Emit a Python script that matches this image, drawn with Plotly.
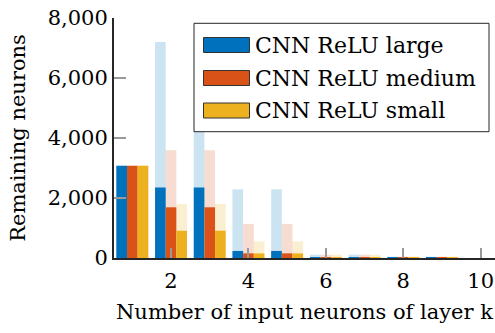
import plotly.graph_objects as go

# ---------------- data ----------------
x_vals = [1, 2, 3, 4, 5, 6, 7, 8, 9, 10]
series_names = ["CNN ReLU large", "CNN ReLU medium", "CNN ReLU small"]
# remaining neurons (solid bars)
large_remaining = [3072, 2350, 2350, 235, 235, 15, 15, 5, 5, 0]
medium_remaining = [3072, 1690, 1690, 155, 155, 12, 12, 4, 4, 0]
small_remaining = [3072, 910, 910, 152, 152, 10, 10, 3, 3, 0]
# total neurons (faint bars)
large_total = [3072, 7200, 7200, 2290, 2290, 110, 110, 45, 45, 0]
medium_total = [3072, 3590, 3590, 1137, 1137, 110, 110, 45, 45, 0]
small_total = [3072, 1800, 1800, 555, 555, 110, 110, 45, 45, 0]
y_ticks = [0, 2000, 4000, 6000, 8000]
x_ticks = [2, 4, 6, 8, 10]

# ---------------- style ----------------
colors = ["#0072BD", "#D95319", "#EDB120"]
faint = ["rgba(0,114,189,0.2)", "rgba(217,83,25,0.2)", "rgba(237,177,32,0.2)"]
FONT = "DejaVu Serif"
FS = 21
LEG_FS = 22
W, H = 495, 333
L, R, T, B = 114, 0, 18, 75
BAR_W = 0.275
offsets = [-1.5 * BAR_W, -0.5 * BAR_W, 0.5 * BAR_W]

fig = go.Figure()
totals = [large_total, medium_total, small_total]
remain = [large_remaining, medium_remaining, small_remaining]
for i in range(3):
    fig.add_trace(go.Bar(x=x_vals, y=totals[i], width=BAR_W, offset=offsets[i],
                         marker=dict(color=faint[i], line=dict(width=0)),
                         showlegend=False, hoverinfo="skip"))
for i in range(3):
    fig.add_trace(go.Bar(x=x_vals, y=remain[i], width=BAR_W, offset=offsets[i],
                         marker=dict(color=colors[i], line=dict(width=0)),
                         name=series_names[i], showlegend=False))

pw = W - L - R
ph = H - T - B


def px(xp):
    return (xp - L) / pw


def py(yp):
    return (H - B - yp) / ph


shapes = []
annotations = []
# legend box
shapes.append(dict(type="rect", xref="paper", yref="paper",
                   x0=px(194), x1=px(489), y0=py(131.7), y1=py(23.3),
                   line=dict(color="#262626", width=1), fillcolor="white", layer="above"))
centers = [45, 78, 110.5]
for i in range(3):
    shapes.append(dict(type="rect", xref="paper", yref="paper",
                       x0=px(203.5), x1=px(249.5), y0=py(centers[i] + 7.5), y1=py(centers[i] - 7.5),
                       line=dict(color="#333333", width=1), fillcolor=colors[i], layer="above"))
    annotations.append(dict(xref="paper", yref="paper", x=px(253), y=py(centers[i]),
                            xanchor="left", yanchor="middle", showarrow=False,
                            text=series_names[i], font=dict(family=FONT, size=LEG_FS, color="black")))

fig.update_layout(
    width=W, height=H,
    margin=dict(l=L, r=R, t=T, b=B, pad=0),
    paper_bgcolor="white", plot_bgcolor="white",
    barmode="overlay",
    font=dict(family=FONT, size=FS, color="black"),
    shapes=shapes, annotations=annotations,
    xaxis=dict(range=[0.527, 10.37], tickvals=x_ticks, ticks="inside", ticklen=10,
               tickcolor="#999999", tickwidth=1.5, showgrid=False, zeroline=False,
               showline=True, linecolor="#262626", linewidth=2,
               tickfont=dict(family=FONT, size=FS), ticklabelstandoff=3,
               title=dict(text="Number of input neurons of layer k", standoff=12,
                          font=dict(family=FONT, size=FS))),
    yaxis=dict(range=[0, 8000], tickvals=y_ticks, tickformat=",", ticks="inside", ticklen=12,
               tickcolor="#999999", tickwidth=1.5, showgrid=False, zeroline=False,
               showline=True, linecolor="#262626", linewidth=2,
               tickfont=dict(family=FONT, size=FS),
               title=dict(text="Remaining neurons", standoff=16,
                          font=dict(family=FONT, size=FS))),
)

fig.write_html("out.html")
